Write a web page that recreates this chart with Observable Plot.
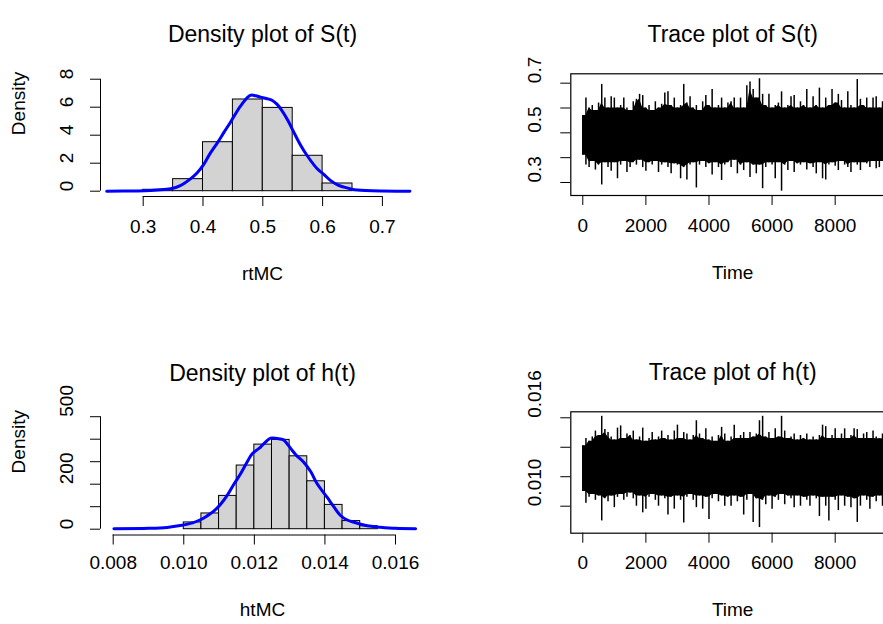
<!DOCTYPE html>
<html><head><meta charset="utf-8">
<script src="https://cdn.jsdelivr.net/npm/d3@7"></script>
<script src="https://cdn.jsdelivr.net/npm/@observablehq/plot@0.6"></script>
<style>
html,body{margin:0;padding:0;background:#fff;}
#wrap{position:relative;width:883px;height:624px;overflow:hidden;background:#fff;}
#wrap svg{position:absolute;}
</style></head>
<body><div id="wrap"></div>
<script>
// ---------- data ----------
// Density plot of S(t): histogram (density scale)
const rtBreaks = [0.30, 0.35, 0.40, 0.45, 0.50, 0.55, 0.60, 0.65];
const rtHeights = [0.10, 0.86, 3.50, 6.55, 5.95, 2.53, 0.55];
// kernel density curve of rtMC
const rtDensX = [0.239,0.29,0.312,0.335,0.346,0.362,0.379,0.39,0.401,0.412,0.424,0.435,0.446,0.463,0.479,0.488,0.496,0.506,0.516,0.524,0.532,0.542,0.552,0.563,0.574,0.591,0.602,0.613,0.625,0.636,0.647,0.658,0.70,0.746];
const rtDensY = [0,0.02,0.05,0.12,0.17,0.4,0.88,1.3,1.9,2.7,3.45,4.2,4.93,6.1,6.85,6.82,6.72,6.62,6.48,6.2,5.76,5.05,4.2,3.3,2.55,1.6,1.2,0.77,0.45,0.29,0.16,0.08,0.01,0];
const rtXTicks = [0.3, 0.4, 0.5, 0.6, 0.7];
const rtXLabels = ["0.3", "0.4", "0.5", "0.6", "0.7"];
const rtYTicks = [0, 2, 4, 6, 8];
const rtYLabels = ["0", "2", "4", "6", "8"];

// Density plot of h(t)
const htBreaks = [0.0100,0.0105,0.0110,0.0115,0.0120,0.0125,0.0130,0.0135,0.0140,0.0145,0.0150,0.0155];
const htHeights = [30,70,148,283,376,397,324,213,108,36,13];
const htDensX = [0.00802,0.0090,0.00953,0.0099,0.01025,0.01047,0.01065,0.01085,0.01105,0.01123,0.01142,0.01161,0.0118,0.01194,0.01217,0.0123,0.01246,0.01265,0.01283,0.0129,0.01305,0.01318,0.0134,0.0136,0.01378,0.01406,0.01425,0.01444,0.01462,0.01482,0.0152,0.01557,0.016,0.01657];
const htDensY = [2,4,8,16,28,42,58,80,112,150,200,246,300,335,364,385,405,403,397,385,355,330,298,255,202,142,100,61,42,31,15,9,4,2];
const htXTicks = [0.008, 0.010, 0.012, 0.014, 0.016];
const htXLabels = ["0.008", "0.010", "0.012", "0.014", "0.016"];
const htYTicks = [0, 100, 200, 300, 400, 500];
const htYLabelTicks = [0, 200, 500];
const htYLabels = ["0", "200", "500"];

// Trace plots: envelope (upper / lower extent) of the chains, read every 100 iterations
const traceStep = 100;
const sHigh = [0.57,0.64,0.60,0.61,0.59,0.62,0.695,0.64,0.60,0.645,
 0.64,0.60,0.61,0.64,0.60,0.59,0.625,0.635,0.655,0.65,
 0.60,0.61,0.59,0.625,0.60,0.615,0.66,0.665,0.61,0.64,
 0.60,0.61,0.695,0.62,0.645,0.60,0.61,0.59,0.625,0.65,
 0.61,0.675,0.60,0.61,0.64,0.60,0.62,0.625,0.64,0.60,
 0.64,0.60,0.69,0.705,0.675,0.64,0.718,0.655,0.61,0.655,
 0.60,0.61,0.62,0.665,0.60,0.61,0.645,0.65,0.60,0.625,
 0.61,0.675,0.60,0.645,0.61,0.68,0.60,0.64,0.61,0.675,
 0.62,0.655,0.63,0.60,0.665,0.61,0.60,0.715,0.635,0.61,
 0.64,0.60,0.64,0.645,0.60,0.625];
const sLow = [0.41,0.37,0.36,0.385,0.35,0.37,0.29,0.38,0.36,0.345,
 0.38,0.315,0.37,0.385,0.34,0.36,0.38,0.37,0.39,0.36,
 0.345,0.38,0.37,0.385,0.34,0.37,0.38,0.36,0.335,0.375,
 0.37,0.315,0.36,0.31,0.37,0.38,0.278,0.37,0.385,0.36,
 0.375,0.33,0.38,0.36,0.308,0.37,0.38,0.36,0.39,0.335,
 0.37,0.348,0.38,0.32,0.37,0.335,0.37,0.275,0.36,0.38,
 0.37,0.315,0.38,0.265,0.37,0.348,0.385,0.34,0.375,0.37,
 0.38,0.35,0.375,0.36,0.335,0.38,0.315,0.31,0.37,0.38,
 0.365,0.348,0.385,0.37,0.36,0.34,0.38,0.37,0.348,0.38,
 0.375,0.36,0.385,0.355,0.36,0.385];
const hHigh = [0.0141,0.0146,0.0144,0.0147,0.0151,0.0148,0.0161,0.0152,0.0150,0.0147,
 0.0145,0.0153,0.01545,0.0146,0.0149,0.0148,0.0151,0.0145,0.0147,0.0153,
 0.0144,0.0146,0.0150,0.0145,0.0147,0.0151,0.0146,0.0148,0.0145,0.0151,
 0.0155,0.0146,0.0150,0.0149,0.0145,0.0148,0.0158,0.0149,0.0146,0.01525,
 0.0145,0.0147,0.0144,0.0148,0.01535,0.0149,0.0144,0.0147,0.0155,0.0146,
 0.0148,0.0150,0.0146,0.0150,0.0147,0.0149,0.0158,0.0161,0.0147,0.0150,
 0.0146,0.01525,0.0147,0.0161,0.0151,0.0146,0.0147,0.0149,0.0145,0.0148,
 0.0146,0.0149,0.0145,0.0147,0.0145,0.0148,0.0155,0.0154,0.0146,0.0148,
 0.01525,0.0146,0.0149,0.01525,0.0146,0.0148,0.01525,0.0152,0.0146,0.0149,
 0.0150,0.0146,0.0151,0.0147,0.01457,0.0149];
const hLow = [0.0110,0.0102,0.0106,0.0108,0.0104,0.0107,0.0090,0.0105,0.0103,0.0107,
 0.0099,0.0106,0.0108,0.0104,0.0106,0.0109,0.0105,0.0100,0.0107,0.00955,
 0.0098,0.0106,0.0108,0.0104,0.0100,0.0107,0.0105,0.0094,0.0106,0.0098,
 0.0107,0.0104,0.00886,0.0106,0.0108,0.0104,0.0099,0.0107,0.0098,0.0106,
 0.0091,0.0105,0.0108,0.0103,0.0107,0.0100,0.0106,0.0100,0.0107,0.0103,
 0.0106,0.0094,0.0104,0.0108,0.0089,0.0105,0.00855,0.0104,0.0101,0.0107,
 0.0098,0.0106,0.0104,0.0108,0.0101,0.0107,0.0105,0.0099,0.0107,0.0100,
 0.0106,0.0104,0.0100,0.0107,0.0105,0.0093,0.0106,0.0100,0.0090,0.0106,
 0.0104,0.0097,0.0107,0.0100,0.0106,0.0099,0.0105,0.0089,0.0100,0.0107,
 0.0104,0.0098,0.0106,0.0103,0.0107,0.0100];
const timeTicks = [0, 2000, 4000, 6000, 8000];
const timeLabels = ["0", "2000", "4000", "6000", "8000"];
const sYTicks = [0.3, 0.4, 0.5, 0.6, 0.7];
const sYLabelTicks = [0.3, 0.5, 0.7];
const sYLabels = ["0.3", "0.5", "0.7"];
const hYTicks = [0.010, 0.012, 0.014, 0.016];
const hYLabelTicks = [0.010, 0.016];
const hYLabels = ["0.010", "0.016"];

// ---------- build tables ----------
const bins = (br, h) => h.map((v, i) => ({x1: br[i], x2: br[i + 1], y: v}));
const curve = (xs, ys) => xs.map((x, i) => ({x, y: ys[i]}));
// each sample: full extent (thin spike) plus the solid core shared with its neighbours
const trace = (hi, lo) => hi.map((v, i) => {
  const a = Math.max(0, i - 1), b = Math.min(hi.length - 1, i + 1);
  return {
    t: i * traceStep, hi: v, lo: lo[i],
    coreHi: Math.min(hi[a], v, hi[b]),
    coreLo: Math.max(lo[a], lo[i], lo[b])
  };
});

const FONT = "'Liberation Sans', Arial, Helvetica, sans-serif";
const FS = 19, TFS = 23;
const wrap = document.getElementById("wrap");
function place(svg, left, top) {
  svg.style.left = left + "px";
  svg.style.top = top + "px";
  wrap.appendChild(svg);
}
const txt = (d) => d;

function densityPanel(o) {
  return Plot.plot({
    width: 441, height: 312,
    marginLeft: o.ml, marginRight: o.mr, marginTop: o.mt, marginBottom: o.mb,
    x: {domain: o.xDomain, axis: null},
    y: {domain: o.yDomain, axis: null},
    style: {fontFamily: FONT, background: "transparent", overflow: "visible", color: "black"},
    marks: [
      Plot.rectY(o.bins, {x1: "x1", x2: "x2", y1: 0, y2: "y", fill: "#d3d3d3", stroke: "black", strokeWidth: 1}),
      Plot.line(o.curve, {x: "x", y: "y", stroke: "black", strokeWidth: 1.3, curve: "catmull-rom"}),
      Plot.line(o.curve, {x: "x", y: "y", stroke: "#0000ff", strokeWidth: 3, curve: "catmull-rom"}),
      Plot.ruleY([o.yDomain[0]], {x1: o.xTicks[0], x2: o.xTicks[o.xTicks.length - 1], stroke: "black", strokeWidth: 1}),
      Plot.ruleX([o.xDomain[0]], {y1: o.yTicks[0], y2: o.yTicks[o.yTicks.length - 1], stroke: "black", strokeWidth: 1}),
      Plot.axisX({ticks: o.xTicks, tickSize: 10, tickFormat: () => "", label: null, anchor: "bottom", strokeWidth: 1}),
      Plot.axisY({ticks: o.yTicks, tickSize: 10, tickFormat: () => "", label: null, anchor: "left", strokeWidth: 1}),
      Plot.text(o.xTicks, {x: txt, text: (d, i) => o.xLabels[i], frameAnchor: "bottom", dy: o.xTickDy, fontSize: FS, fill: "black"}),
      Plot.text(o.yLabelTicks, {y: txt, text: (d, i) => o.yLabels[i], frameAnchor: "left", dx: -34, rotate: -90, fontSize: FS, fill: "black"}),
      Plot.text([o.xlab], {text: txt, frameAnchor: "bottom", dy: o.xLabDy, fontSize: FS, fill: "black"}),
      Plot.text(["Density"], {text: txt, frameAnchor: "left", dx: -81.7, rotate: -90, fontSize: FS, fill: "black"}),
      Plot.text([o.title], {text: txt, frameAnchor: "top", dy: o.titleDy, fontSize: TFS, fill: "black"})
    ]
  });
}

function tracePanel(o) {
  return Plot.plot({
    width: 453, height: 312,
    marginLeft: 129.3, marginRight: 0, marginTop: o.mt, marginBottom: o.mb,
    x: {domain: [-380, 9880], axis: null},
    y: {domain: o.yDomain, axis: null},
    style: {fontFamily: FONT, background: "transparent", overflow: "visible", color: "black"},
    marks: [
      Plot.areaY(o.data, {x: "t", y1: "coreLo", y2: "coreHi", fill: "black"}),
      Plot.ruleX(o.data, {x: "t", y1: "lo", y2: "hi", stroke: "black", strokeWidth: 1.5}),
      Plot.frame({stroke: "black", strokeWidth: 1.2}),
      Plot.axisX({ticks: timeTicks, tickSize: 10, tickFormat: () => "", label: null, anchor: "bottom", strokeWidth: 1}),
      Plot.axisY({ticks: o.yTicks, tickSize: 10, tickFormat: () => "", label: null, anchor: "left", strokeWidth: 1}),
      Plot.text(timeTicks, {x: txt, text: (d, i) => timeLabels[i], frameAnchor: "bottom", dy: o.xTickDy, fontSize: FS, fill: "black"}),
      Plot.text(o.yLabelTicks, {y: txt, text: (d, i) => o.yLabels[i], frameAnchor: "left", dx: -36, rotate: -90, fontSize: FS, fill: "black"}),
      Plot.text(["Time"], {text: txt, frameAnchor: "bottom", dy: o.xLabDy, fontSize: FS, fill: "black"}),
      Plot.text([o.title], {text: txt, frameAnchor: "top", dy: o.titleDy, fontSize: TFS, fill: "black"})
    ]
  });
}

place(densityPanel({
  ml: 100, mr: 17, mt: 73.3, mb: 116,
  xDomain: [0.2286, 0.7704], yDomain: [-0.379, 8.386],
  bins: bins(rtBreaks, rtHeights), curve: curve(rtDensX, rtDensY),
  xTicks: rtXTicks, xLabels: rtXLabels, yTicks: rtYTicks, yLabelTicks: rtYTicks, yLabels: rtYLabels,
  xTickDy: 36.2, xLabDy: 83.3, titleDy: -48.3,
  xlab: "rtMC", title: "Density plot of S(t)"
}), 0, 0);

place(tracePanel({
  mt: 73.3, mb: 117, yDomain: [0.2476, 0.7378], data: trace(sHigh, sLow),
  yTicks: sYTicks, yLabelTicks: sYLabelTicks, yLabels: sYLabels,
  xTickDy: 36.7, xLabDy: 83.3, titleDy: -48.6, title: "Trace plot of S(t)"
}), 441, 0);

place(densityPanel({
  ml: 100, mr: 17, mt: 99.3, mb: 89.5,
  xDomain: [0.0076401, 0.0168219], yDomain: [-25.8, 521.8],
  bins: bins(htBreaks, htHeights), curve: curve(htDensX, htDensY),
  xTicks: htXTicks, xLabels: htXLabels, yTicks: htYTicks, yLabelTicks: htYLabelTicks, yLabels: htYLabels,
  xTickDy: 34.2, xLabDy: 80.8, titleDy: -47.6,
  xlab: "htMC", title: "Density plot of h(t)"
}), 0, 312);

place(tracePanel({
  mt: 99.3, mb: 91.3, yDomain: [0.008167, 0.016407], data: trace(hHigh, hLow),
  yTicks: hYTicks, yLabelTicks: hYLabelTicks, yLabels: hYLabels,
  xTickDy: 36, xLabDy: 82.6, titleDy: -48, title: "Trace plot of h(t)"
}), 441, 312);
</script>
</body></html>
